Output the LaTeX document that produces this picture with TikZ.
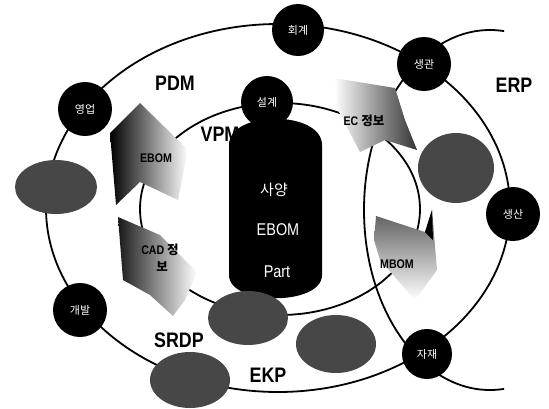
\documentclass[tikz,border=0pt]{standalone}
\usepackage{fontspec}
\newfontfamily\kr{Noto Sans CJK KR}
\newfontfamily\lblfont[FakeStretch=0.85]{Liberation Sans}
\usetikzlibrary{shapes.geometric}
\tikzset{
  dept/.style={circle, fill=black, minimum size=54pt, inner sep=0pt, text=white, font=\kr\fontsize{11}{11}\selectfont},
  blob/.style={ellipse, fill=black!72, inner sep=0pt},
  ring/.style={draw=black, line width=1.8pt},
  biglbl/.style={font=\lblfont\bfseries\fontsize{21}{21}\selectfont, inner sep=0pt},
  smalllbl/.style={font=\lblfont\bfseries\fontsize{12.5}{12.5}\selectfont, inner sep=0pt},
  cyltext/.style={text=white, inner sep=0pt},
}
\begin{document}
\begin{tikzpicture}[x=1pt, y=-1pt]
\useasboundingbox (0,0) rectangle (549,408);
% rings
\draw[ring] (278,208) ellipse [x radius=232, y radius=184];
\draw[ring] (280,209) ellipse [x radius=140, y radius=106];
\begin{scope}
  \clip (0,0) rectangle (504,408);
  \draw[ring] (490,210) ellipse [x radius=126, y radius=180];
\end{scope}
% flow arrows
\shade[left color=black, right color=white] (110,133) -- (140,103) -- (188,150) -- (178,200) -- (140,182) -- (116,205) -- cycle;
\shade[left color=black!90, right color=white] (118,217) -- (160,235) -- (197,272) -- (185,300) -- (173,316) -- (150,295) -- (123,280) -- cycle;
\shade[left color=white, right color=black!80] (334,78) -- (395,88) -- (405,120) -- (417,150) -- (385,140) -- (360,152) -- (338,110) -- cycle;
\shade[top color=black!65, bottom color=white] (376,216) -- (425,232) -- (432,210) -- (437,270) -- (415,300) -- (380,260) -- (374,240) -- cycle;
\fill[black] (425,232) -- (432,210) -- (433,240) -- cycle;
\node[smalllbl] (tebom) at (156,158) {EBOM};
\node[smalllbl] (tcad) at (160,250) {CAD {\kr\bfseries 정}};
\node[smalllbl] (tcad2) at (162,267) {\kr\bfseries 보};
\node[smalllbl] (tec) at (364,121) {EC {\kr\bfseries 정보}};
\node[smalllbl] (tmbom) at (397,264) {MBOM};
% cylinder
\fill[black] (229,145) .. controls (229,110) and (322,110) .. (322,145) -- (322,275) .. controls (322,306) and (229,306) .. (229,275) -- cycle;
\node[cyltext, font=\kr\fontsize{15}{15}\selectfont] (spec) at (274,190) {사양};
\node[cyltext, font=\lblfont\fontsize{17}{17}\selectfont] (ebom) at (278,230) {EBOM};
\node[cyltext, font=\lblfont\fontsize{17}{17}\selectfont] (part) at (277,272) {Part};
% blobs
\node[blob, minimum width=82pt, minimum height=54pt] (b1) at (56,187) {};
\node[blob, minimum width=76pt, minimum height=70pt] (b2) at (456,168) {};
\node[blob, minimum width=80pt, minimum height=54pt] (b3) at (248,318) {};
\node[blob, minimum width=80pt, minimum height=58pt] (b4) at (336,344) {};
\node[blob, minimum width=80pt, minimum height=56pt] (b5) at (190,380) {};
% departments
\node[dept] (sales) at (85,109) {영업};
\node[dept, minimum size=52pt] (acct) at (298,30) {회계};
\node[dept] (pc) at (424,64) {생관};
\node[dept, minimum size=52pt] (design) at (267,102) {설계};
\node[dept] (prod) at (513,214) {생산};
\node[dept, minimum size=50pt] (mat) at (427,354) {자재};
\node[dept] (dev) at (80,310) {개발};
% region labels
\node[biglbl] (pdm) at (175,83) {PDM};
\node[biglbl] (erp) at (514,85) {ERP};
\node[biglbl] (vpm) at (220,134) {VPM};
\node[biglbl] (srdp) at (179,340) {SRDP};
\node[biglbl] (ekp) at (268,375) {EKP};
\end{tikzpicture}
\end{document}
